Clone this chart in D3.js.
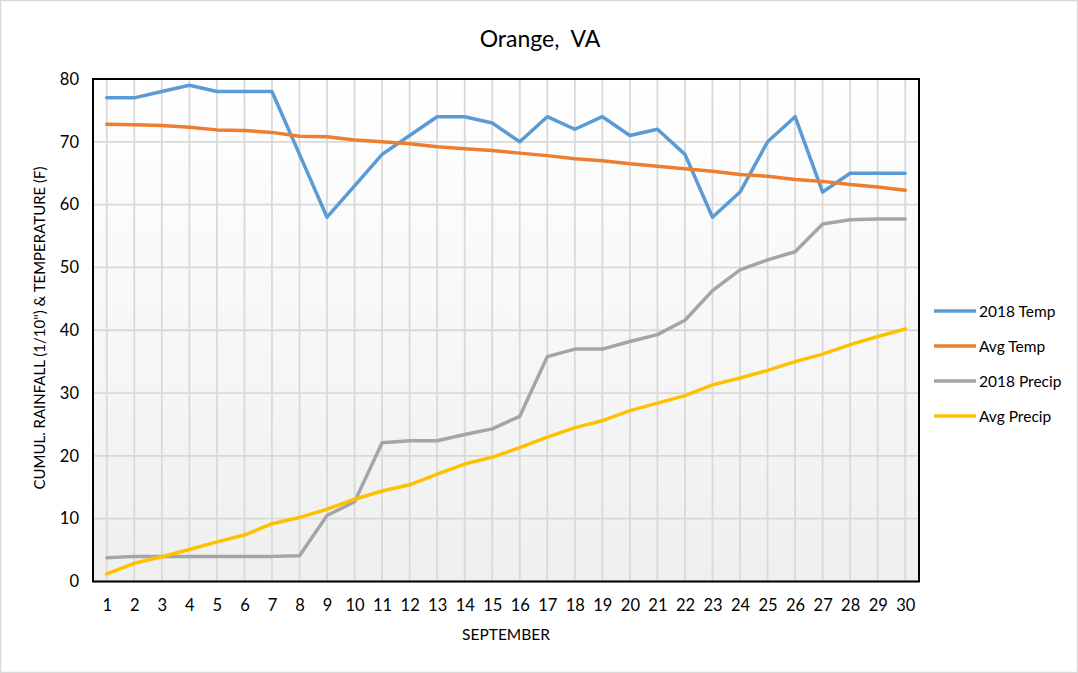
<!DOCTYPE html>
<html><head><meta charset="utf-8">
<script src="https://cdn.jsdelivr.net/npm/d3@7"></script>
<style>body{margin:0;background:#fff}svg{display:block}text{font-family:Lato,"Open Sans",sans-serif;fill:#000}</style>
</head><body><svg id="c" width="1078" height="673"></svg>
<script>
const days = d3.range(1,31);
const temp2018 = [77,77,78,79,78,78,78,68,58,63,68,71,74,74,73,70,74,72,74,71,72,68,58,62,70,74,62,65,65,65];
const avgTemp = [72.8,72.7,72.6,72.3,71.9,71.8,71.5,70.9,70.8,70.3,70.0,69.7,69.2,68.9,68.6,68.2,67.8,67.3,67.0,66.5,66.1,65.7,65.3,64.8,64.5,64.0,63.7,63.2,62.8,62.3];
const precip2018 = [3.8,4.0,4.0,4.0,4.0,4.0,4.0,4.1,10.5,12.7,22.1,22.4,22.4,23.4,24.3,26.3,35.8,37.0,37.0,38.2,39.3,41.6,46.3,49.6,51.2,52.5,56.9,57.6,57.7,57.7];
const avgPrecip = [1.2,2.9,3.95,5.1,6.3,7.4,9.2,10.2,11.5,13.1,14.4,15.4,17.1,18.7,19.8,21.3,23.0,24.5,25.6,27.2,28.4,29.6,31.3,32.4,33.6,35.0,36.2,37.7,39.0,40.2];
const yTicks = [0,10,20,30,40,50,60,70,80];
const seriesNames = ["2018 Temp","Avg Temp","2018 Precip","Avg Precip"];
const seriesColors = ["#5b9bd5","#ed7d31","#a5a5a5","#ffc000"];
const seriesData = [temp2018,avgTemp,precip2018,avgPrecip];

const svg = d3.select("#c");
const L=93,R=919,T=79,B=581.5;
svg.append("rect").attr("x",0.5).attr("y",0.5).attr("width",1077).attr("height",672).attr("fill","#fff").attr("stroke","#d9d9d9").attr("stroke-width",1.5);

const defs = svg.append("defs");
const g = defs.append("linearGradient").attr("id","bg").attr("x1",0).attr("y1",0).attr("x2",0).attr("y2",1);
g.append("stop").attr("offset","0%").attr("stop-color","#ffffff");
g.append("stop").attr("offset","100%").attr("stop-color","#efefef");

const x = d3.scalePoint().domain(days).range([L,R]).padding(0.5);
const y = d3.scaleLinear().domain([0,80]).range([B,T]);

svg.append("rect").attr("x",L).attr("y",T).attr("width",R-L).attr("height",B-T).attr("fill","url(#bg)");

// gridlines
svg.append("g").selectAll("line").data(yTicks).join("line")
  .attr("x1",L).attr("x2",R).attr("y1",d=>y(d)).attr("y2",d=>y(d))
  .attr("stroke","#d9d9d9").attr("stroke-width",1.8);
svg.append("g").selectAll("line").data(days).join("line")
  .attr("x1",d=>x(d)).attr("x2",d=>x(d)).attr("y1",T).attr("y2",B)
  .attr("stroke","#d9d9d9").attr("stroke-width",1.8);

// axes
const ya = svg.append("g").attr("transform",`translate(${L},0)`).call(d3.axisLeft(y).tickValues(yTicks).tickSize(0).tickPadding(14));
ya.select(".domain").remove();
ya.selectAll("text").attr("font-size",16.5).style("font-family","Lato,'Open Sans',sans-serif");
const xa = svg.append("g").attr("transform",`translate(0,${B})`).call(d3.axisBottom(x).tickSize(0).tickPadding(18));
xa.select(".domain").remove();
xa.selectAll("text").attr("font-size",16.5).style("font-family","Lato,'Open Sans',sans-serif");

// lines
const line = d3.line().x((d,i)=>x(days[i])).y(d=>y(d));
seriesData.forEach((s,k)=>{
  svg.append("path").datum(s).attr("d",line).attr("fill","none")
    .attr("stroke",seriesColors[k]).attr("stroke-width",3.5).attr("stroke-linejoin","round").attr("stroke-linecap","round");
});

// border
svg.append("rect").attr("x",L).attr("y",T).attr("width",R-L).attr("height",B-T).attr("fill","none").attr("stroke","#000").attr("stroke-width",2);

// titles
svg.append("text").attr("x",540).attr("y",47).attr("text-anchor","middle").attr("font-size",23).text("Orange,  VA").style("white-space","pre");
svg.append("text").attr("x",506).attr("y",640).attr("text-anchor","middle").attr("font-size",15.5).text("SEPTEMBER");
svg.append("text").attr("transform","translate(45,328) rotate(-90)").attr("text-anchor","middle").attr("font-size",15).text('CUMUL. RAINFALL (1/10") & TEMPERATURE (F)');

// legend
const lg = svg.append("g");
seriesNames.forEach((n,k)=>{
  const yy = 311 + k*35;
  lg.append("line").attr("x1",934).attr("x2",976).attr("y1",yy).attr("y2",yy).attr("stroke",seriesColors[k]).attr("stroke-width",3.5);
  lg.append("text").attr("x",979).attr("y",yy+5.5).attr("font-size",15.5).text(n);
});
</script></body></html>
